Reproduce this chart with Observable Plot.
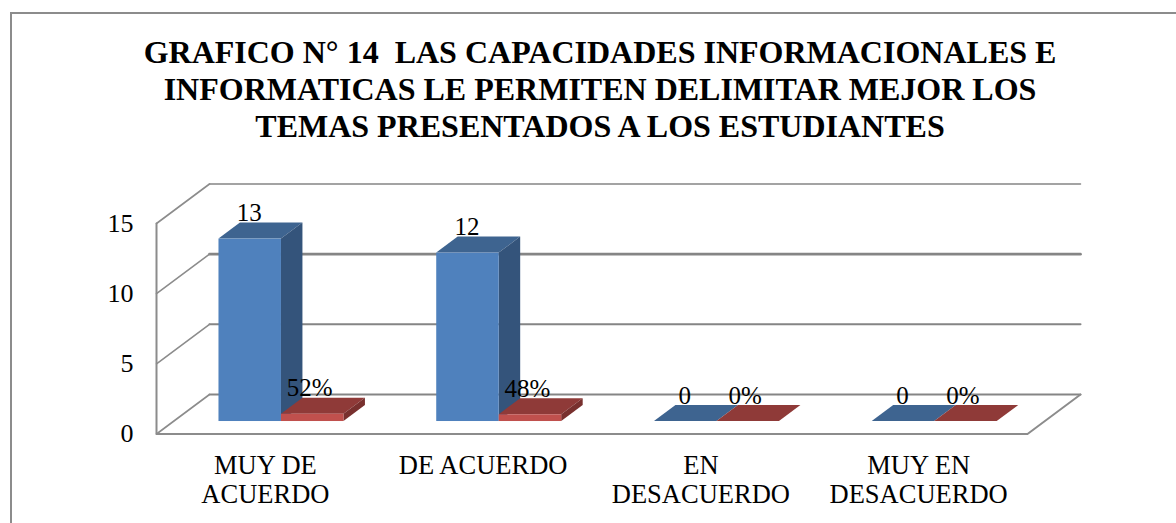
<!DOCTYPE html>
<html>
<head>
<meta charset="utf-8">
<script src="https://cdn.jsdelivr.net/npm/d3@7"></script>
<script src="https://cdn.jsdelivr.net/npm/@observablehq/plot@0.6"></script>
<style>
  html, body { margin: 0; padding: 0; background: #fff; overflow: hidden; }
  #page { position: relative; width: 1176px; height: 523px; overflow: hidden; }
  #frame { position: absolute; left: 10px; top: 12px; width: 1200px; height: 600px;
           border: 2px solid #8c8c8c; box-sizing: border-box; pointer-events: none; z-index: 2; }
  #title { height: 170px; box-sizing: border-box; padding-top: 34px; text-align: center; width: 1200px;
           font: bold 32px/37px "Liberation Serif", serif; color: #000; white-space: pre; }
  #chart svg { display: block; background: transparent; }
</style>
</head>
<body>
<div id="page">
  <div id="frame"></div>
  <div id="title"></div>
  <div id="chart"></div>
</div>
<script>
const titleLines = [
  "GRAFICO N° 14  LAS CAPACIDADES INFORMACIONALES E",
  "INFORMATICAS LE PERMITEN DELIMITAR MEJOR LOS",
  "TEMAS PRESENTADOS A LOS ESTUDIANTES"
];
const categories = ["MUY DE\nACUERDO", "DE ACUERDO", "EN\nDESACUERDO", "MUY EN\nDESACUERDO"];
const frecuencia = [13, 12, 0, 0];
const porcentaje = [0.52, 0.48, 0, 0];
const yTicks = [0, 5, 10, 15];
const gridWeights = [1.8, 2, 2.6, 1.5];

// oblique 3D depth, expressed in scale units
const DX = 0.2434, DY = 2.815;
const depthFront = 0.316, depthBack = 0.721;
const barStart = 0.21, barWidth = 0.287;

document.getElementById("title").textContent = titleLines.join("\n");

const bars = [
  ...frecuencia.map((v, i) => ({id: "f" + i, i, v, xL: i + barStart, xR: i + barStart + barWidth, label: String(v), s: 0})),
  ...porcentaje.map((v, i) => ({id: "p" + i, i, v, xL: i + barStart + barWidth, xR: i + barStart + 2 * barWidth, label: d3.format(".0%")(v), s: 1}))
];
const tops = bars.flatMap(b => [depthFront, depthBack].map(d => ({
  id: b.id, s: b.s, y: b.v + DY * d, x1: b.xL + DX * d, x2: b.xR + DX * d
})));
const sides = bars.flatMap(b => [depthFront, depthBack].map(d => ({
  id: b.id, s: b.s, x: b.xR + DX * d, y1: DY * d, y2: b.v + DY * d
})));
const fronts = bars.map(b => ({
  s: b.s, x1: b.xL + DX * depthFront, x2: b.xR + DX * depthFront, y1: DY * depthFront, y2: b.v + DY * depthFront
}));
const labels = bars.map(b => ({
  s: b.s, x: (b.xL + b.xR) / 2 + DX * depthFront, y: b.v + DY * depthFront, label: b.label
}));

const n = categories.length;
const gridBack = yTicks.flatMap((t, k) => [
  {t, w: gridWeights[k], x: DX, y: t + DY}, {t, w: gridWeights[k], x: n + DX, y: t + DY}
]);
const gridSide = yTicks.flatMap(t => [{t, x: 0, y: t}, {t, x: DX, y: t + DY}]);
const walls = [
  {x: 0, y: yTicks[yTicks.length - 1]}, {x: 0, y: 0}, {x: n, y: 0}, {x: n + DX, y: DY}
];

const layer = (s, fTop, fSide, fFront) => [
  Plot.areaX(tops.filter(d => d.s === s), {y: "y", x1: "x1", x2: "x2", z: "id", fill: fTop}),
  Plot.areaY(sides.filter(d => d.s === s), {x: "x", y1: "y1", y2: "y2", z: "id", fill: fSide}),
  Plot.rect(fronts.filter(d => d.s === s), {x1: "x1", x2: "x2", y1: "y1", y2: "y2", fill: fFront})
];

const plot = Plot.plot({
  width: 1176,
  height: 353,
  marginLeft: 156,
  marginRight: 149,
  marginTop: 53,
  marginBottom: 89.5,
  style: {fontFamily: "'Liberation Serif', serif", background: "transparent", color: "#000"},
  x: {domain: [0, n], axis: null},
  y: {domain: [0, 15], axis: null},
  marks: [
    Plot.line(gridBack, {x: "x", y: "y", z: "t", stroke: "#858585", strokeWidth: "w"}),
    Plot.line(gridSide, {x: "x", y: "y", z: "t", stroke: "#8c8c8c", strokeWidth: 1.6}),
    Plot.line(walls, {x: "x", y: "y", stroke: "#8c8c8c", strokeWidth: 2}),
    ...layer(0, "#3e6490", "#34547b", "#4f81bd"),
    ...layer(1, "#8f3a38", "#78302e", "#c0504d"),
    Plot.axisY({ticks: yTicks, tickSize: 0, tickPadding: 23, label: null, fontSize: 26, fill: "#000"}),
    Plot.text(categories.map((c, i) => ({c, x: i + 0.5})), {
      x: "x", y: () => 0, text: "c", lineAnchor: "top", dy: 19, fontSize: 26.5, lineHeight: 1.11, fill: "#000"
    }),
    Plot.text(labels.filter(d => d.s === 0), {x: "x", y: "y", text: "label", dx: -1, dy: -26, fontSize: 25, fill: "#000"}),
    Plot.text(labels.filter(d => d.s === 1), {x: "x", y: "y", text: "label", dx: -3, dy: -26, fontSize: 25, fill: "#000"})
  ]
});
document.getElementById("chart").appendChild(plot);
</script>
</body>
</html>
